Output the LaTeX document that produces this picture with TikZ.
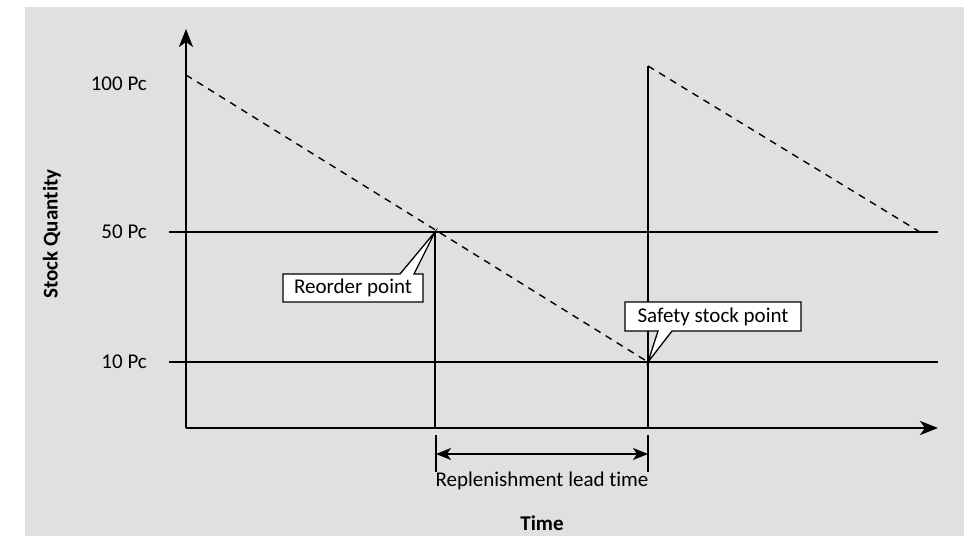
\documentclass[tikz,border=0pt]{standalone}
\usepackage{fontspec}
\setmainfont{Carlito}[Ligatures=NoCommon]
\usetikzlibrary{arrows.meta,positioning,calc}
\definecolor{panel}{HTML}{E0E0E0}
\tikzset{
  axis/.style={line width=2.4pt, -{Stealth[length=18pt,width=14pt,inset=5pt]}},
  level/.style={line width=1.3pt},
  stock/.style={line width=1.4pt, dash pattern=on 7pt off 6pt},
  lead/.style={line width=1.3pt, {Stealth[length=15pt,width=12pt,inset=4pt]}-{Stealth[length=15pt,width=12pt,inset=4pt]}},
  callout/.style={draw, fill=white, line width=1.3pt, line join=miter},
  lbl/.style={font=\fontsize{21}{25}\selectfont, inner sep=0pt},
}

\begin{document}
\begin{tikzpicture}[x=1pt,y=-1pt]
  \useasboundingbox (0,0) rectangle (968,536);
  \fill[panel] (25,7) rectangle (964,536);
  % points of the stock curve
  \coordinate (o) at (186,428);
  \coordinate (top1) at (186,75);
  \coordinate (rp) at (435,232);
  \coordinate (ss) at (648,362);
  \coordinate (top2) at (648,66);
  \coordinate (end2) at (920,232);
  % levels
  \node[lbl, anchor=east] (q100) at (147,84) {100 Pc};
  \node[lbl, anchor=east] (q50) at (147,232) {50 Pc};
  \node[lbl, anchor=east] (q10) at (147,362) {10 Pc};
  \draw[level] (169,232) -- (938,232);
  \draw[level] (169,362) -- (938,362);
  % stock curve
  \draw[stock] (top1) -- (ss);
  \draw[level] (ss) -- (top2);
  \draw[stock] (top2) -- (end2);
  \draw[level] (rp) -- (rp |- o);
  \draw[level] (ss) -- (ss |- o);
  % axes
  \draw[axis] (o) -- (186,29);
  \draw[axis] (o) -- (938,428);
  \node[lbl, font=\fontsize{21}{25}\selectfont\bfseries, rotate=90] (ylbl) at (52,234) {Stock Quantity};
  \node[lbl, font=\fontsize{21}{25}\selectfont\bfseries] (xlbl) at (542,523) {Time};
  % lead time
  \coordinate (la) at (436,435);
  \coordinate (lb) at (648,435);
  \draw[level] (la) -- ++(0,37);
  \draw[level] (lb) -- ++(0,37);
  \draw[lead] ($(la)+(0,19)$) -- ($(lb)+(0,19)$);
  \node[lbl] (leadlbl) at (542,481) {Replenishment lead time};
  % callouts
  \filldraw[callout] (283,274) -- (400,274) -- (rp) -- (414,274) -- (423,274) -- (423,302) -- (283,302) -- cycle;
  \node[lbl] (reorder) at (353,288) {Reorder point};
  \filldraw[callout] (625,302) -- (801,302) -- (801,331) -- (672,331) -- (ss) -- (658,331) -- (625,331) -- cycle;
  \node[lbl] (safety) at (713,316.5) {Safety stock point};
\end{tikzpicture}
\end{document}
